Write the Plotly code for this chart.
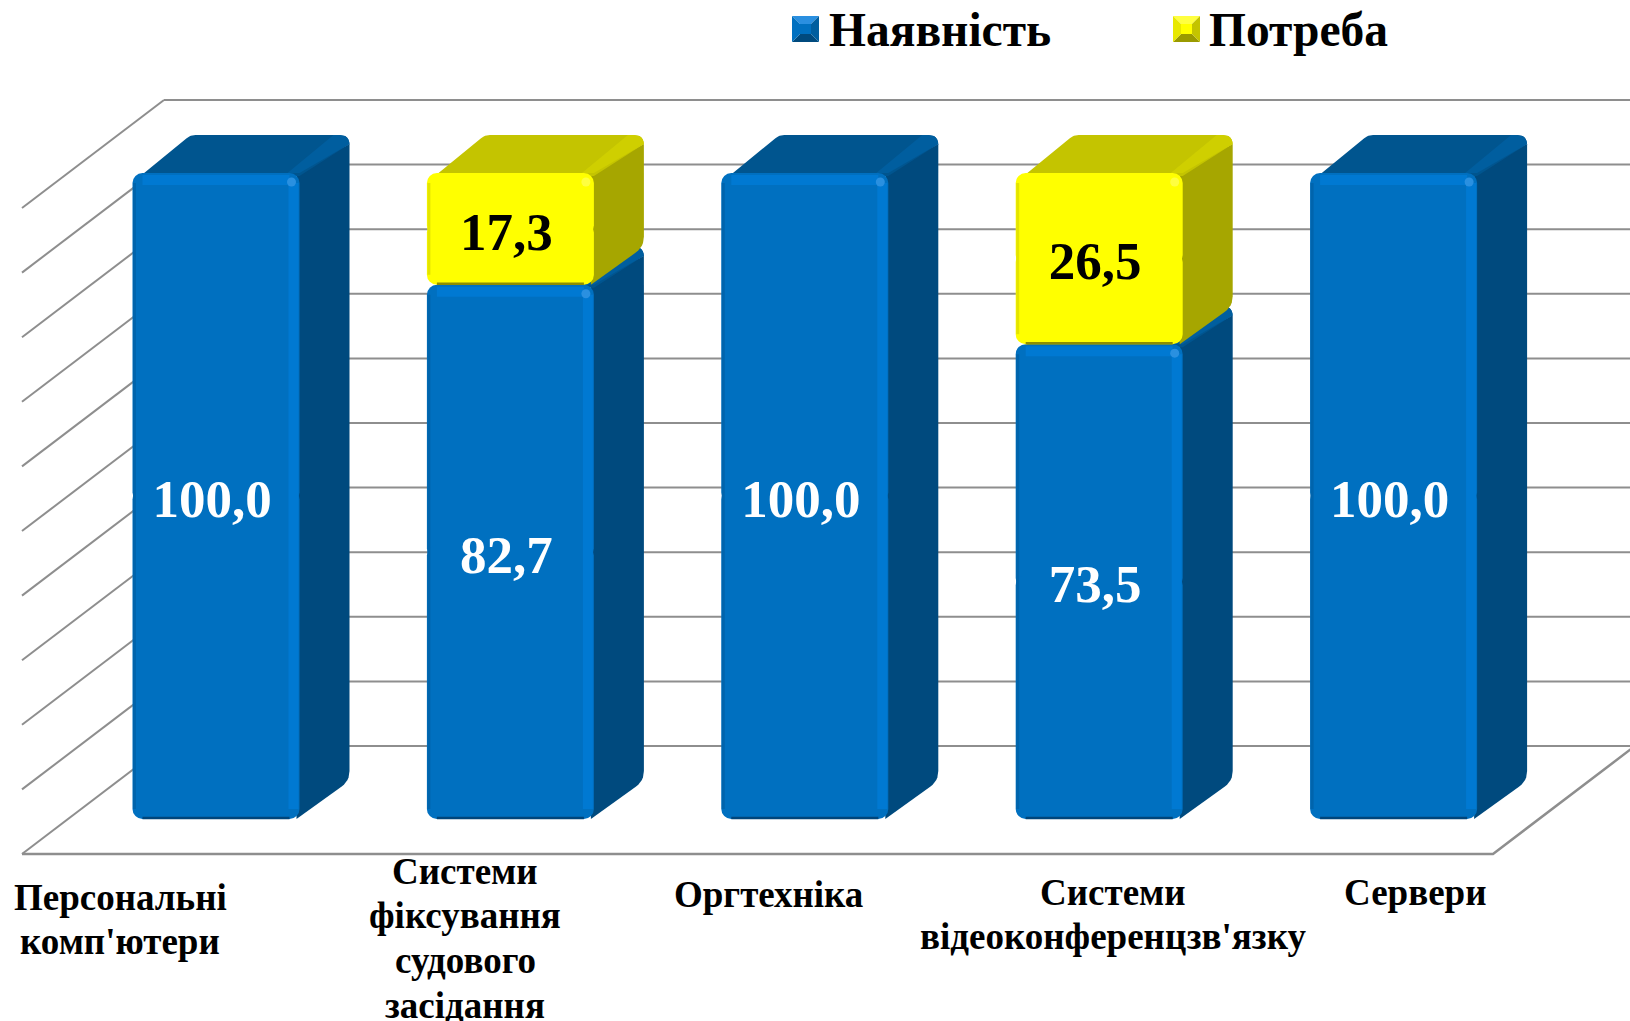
import plotly.graph_objects as go

# ---------- data ----------
CATEGORIES = ["Персональні<br>комп'ютери", "Системи<br>фіксування<br>судового<br>засідання",
              "Оргтехніка", "Системи<br>відеоконференцзв'язку", "Сервери"]
NAYAVNIST = [100.0, 82.7, 100.0, 73.5, 100.0]
POTREBA = [None, 17.3, None, 26.5, None]
SERIES_NAMES = ["Наявність", "Потреба"]
GRID_VALUES = [0, 10, 20, 30, 40, 50, 60, 70, 80, 90, 100]

# ---------- layout constants (pixels of the 1630x1021 page) ----------
W, H = 1630, 1021
PX_PER_CAT = 294.4
PX_PER_VAL = 6.46
X0_PX, Y0_PX = 216.0, 819.0          # pixel of category 0 / value 0
BAR_W = 167 / PX_PER_CAT
BOX_DX, BOX_DY = 50 / PX_PER_CAT, 38 / PX_PER_VAL
FLOOR_F_Y = -35 / PX_PER_VAL         # front edge of the floor, relative to the bars' base
FLOOR_F_XL = (22 - X0_PX) / PX_PER_CAT
FLOOR_F_XR = (1493 - X0_PX) / PX_PER_CAT
WALL_DX, WALL_DY = 142 / PX_PER_CAT, 108 / PX_PER_VAL
R = 10

XR = [-X0_PX / PX_PER_CAT, (W - X0_PX) / PX_PER_CAT]
YR = [-(H - Y0_PX) / PX_PER_VAL, Y0_PX / PX_PER_VAL]


def px(n):
    return n / PX_PER_CAT


def py(n):
    return n / PX_PER_VAL


STYLE = [
    dict(front="#0070C0", top="#00558F", ridge="#005E9F", side="#004A7E",
         hi="#0079D2", shade="#00457A", spot="#2A90E0", left="#0064AC", txt="white"),
    dict(front="#FFFF00", top="#C4C400", ridge="#CFCF00", side="#A6A600",
         hi="#FFFF00", shade="#8E8E00", spot="#FFFF40", left="#E4E400", txt="black"),
]
FONT = "Liberation Serif, Times New Roman, serif"


def rounded(points, radii):
    """Polygon in data units with arcs of the given pixel radius at each vertex."""
    out_x, out_y = [], []
    pts = [(x * PX_PER_CAT, y * PX_PER_VAL) for x, y in points]
    n = len(pts)
    for i, (qx, qy) in enumerate(pts):
        r = radii[i]
        ax, ay = pts[i - 1]
        bx, by = pts[(i + 1) % n]
        if r == 0:
            out_x.append(qx)
            out_y.append(qy)
            continue
        la = ((ax - qx) ** 2 + (ay - qy) ** 2) ** 0.5
        lb = ((bx - qx) ** 2 + (by - qy) ** 2) ** 0.5
        s = (qx + (ax - qx) * r / la, qy + (ay - qy) * r / la)
        e = (qx + (bx - qx) * r / lb, qy + (by - qy) * r / lb)
        for k in range(7):
            t = k / 6
            out_x.append((1 - t) ** 2 * s[0] + 2 * t * (1 - t) * qx + t ** 2 * e[0])
            out_y.append((1 - t) ** 2 * s[1] + 2 * t * (1 - t) * qy + t ** 2 * e[1])
    out_x.append(out_x[0])
    out_y.append(out_y[0])
    return [x / PX_PER_CAT for x in out_x], [y / PX_PER_VAL for y in out_y]


def poly(xs, ys, color, xaxis="x", yaxis="y"):
    return go.Scatter(x=xs, y=ys, mode="lines", fill="toself", fillcolor=color,
                      line=dict(width=0, color=color), hoverinfo="skip", showlegend=False,
                      xaxis=xaxis, yaxis=yaxis)


def line(xs, ys, color, width=2, xaxis="x", yaxis="y"):
    return go.Scatter(x=xs, y=ys, mode="lines", line=dict(color=color, width=width),
                      hoverinfo="skip", showlegend=False, xaxis=xaxis, yaxis=yaxis)


fig = go.Figure()
GRID = "#8E8E8E"

# ---------- walls and floor ----------
for v in GRID_VALUES:
    yb = FLOOR_F_Y + WALL_DY + v
    fig.add_trace(line([FLOOR_F_XL + WALL_DX, XR[1] + 1], [yb, yb], GRID))
    fig.add_trace(line([FLOOR_F_XL, FLOOR_F_XL + WALL_DX],
                       [FLOOR_F_Y + v, FLOOR_F_Y + v + WALL_DY], GRID))
fig.add_trace(line([FLOOR_F_XL, FLOOR_F_XR, FLOOR_F_XR + WALL_DX],
                   [FLOOR_F_Y, FLOOR_F_Y, FLOOR_F_Y + WALL_DY], GRID, 2.5))

# ---------- side and top faces of every block ----------
segments = []
for s, vals in enumerate([NAYAVNIST, POTREBA]):
    for i, v in enumerate(vals):
        if v is None:
            continue
        base = 0.0 if s == 0 else NAYAVNIST[i]
        segments.append((s, i, base, v))

for s, i, base, v in segments:
    st = STYLE[s]
    xl, xr = i - BAR_W / 2, i + BAR_W / 2
    top = base + v
    bx, by = xr + BOX_DX, top + BOX_DY
    xs, ys = rounded([(xr - px(3), top), (bx, by - py(9)), (bx, base + BOX_DY), (xr - px(3), base)],
                     [0, 0, R, 0])
    fig.add_trace(poly(xs, ys, st["side"]))
    xs, ys = rounded([(xl + px(8), top - py(3)), (xr, top - py(3)), (bx, by - py(9)), (bx, by),
                      (xl + px(58), by)], [0, 0, 0, R, 5])
    fig.add_trace(poly(xs, ys, st["top"]))
    xs, ys = rounded([(xr - px(12), top), (xr, top), (bx, by - py(9)), (bx, by), (bx - px(16), by)],
                     [0, 0, 0, R, 0])
    fig.add_trace(poly(xs, ys, st["ridge"]))

# ---------- front faces: real bars on an overlaying pair of axes ----------
OVERLAP = 1.0
for s, vals in enumerate([NAYAVNIST, POTREBA]):
    st = STYLE[s]
    idx = [i for i, v in enumerate(vals) if v is not None]
    v = [vals[i] for i in idx]
    b = [0.0 if s == 0 else NAYAVNIST[i] for i in idx]
    mid = [bb + vv / 2 for bb, vv in zip(b, v)]
    cats = [CATEGORIES[i].replace("<br>", " ") for i in idx]
    for sign in (1, -1):   # two halves so that both ends of the block are rounded
        fig.add_trace(go.Bar(
            x=idx, y=[sign * (vv / 2 + OVERLAP) for vv in v],
            base=[m - sign * OVERLAP for m in mid], width=BAR_W,
            name=SERIES_NAMES[s], customdata=[[c, vv] for c, vv in zip(cats, v)],
            hovertemplate="%{customdata[0]}<br>" + SERIES_NAMES[s] + ": %{customdata[1]:.1f}<extra></extra>",
            marker=dict(color=st["front"], cornerradius=R, line=dict(width=0)),
            showlegend=False, xaxis="x2", yaxis="y2"))

# ---------- bevel highlights and value labels ----------
X3, Y3 = "x3", "y3"
for s, i, base, v in segments:
    st = STYLE[s]
    xl, xr = i - BAR_W / 2, i + BAR_W / 2
    top = base + v
    rv, rc = py(R), px(R)
    fig.add_trace(poly([xr - px(11), xr - px(1), xr - px(1), xr - px(11)],
                       [base + rv, base + rv, top - rv, top - rv], st["hi"], X3, Y3))
    fig.add_trace(poly([xl + rc, xr - rc, xr - rc, xl + rc],
                       [top - py(2), top - py(2), top - py(12), top - py(12)], st["hi"], X3, Y3))
    fig.add_trace(poly([xl + px(0.5), xl + px(3.5), xl + px(3.5), xl + px(0.5)],
                       [base + rv, base + rv, top - rv, top - rv], st["left"], X3, Y3))
    fig.add_trace(line([xl + rc, xr - rc], [base + py(1), base + py(1)], st["shade"], 2.5, X3, Y3))
    fig.add_trace(go.Scatter(x=[xr - px(8)], y=[top - py(9)], mode="markers",
                             marker=dict(size=9, color=st["spot"], line=dict(width=0)),
                             hoverinfo="skip", showlegend=False, xaxis=X3, yaxis=Y3))

for s, vals in enumerate([NAYAVNIST, POTREBA]):
    idx = [i for i, v in enumerate(vals) if v is not None]
    v = [vals[i] for i in idx]
    b = [0.0 if s == 0 else NAYAVNIST[i] for i in idx]
    fig.add_trace(go.Scatter(
        x=[i - px(4) for i in idx], y=[bb + vv / 2 - py(7.5) for bb, vv in zip(b, v)], mode="text",
        text=[f"{vv:.1f}".replace(".", ",") for vv in v],
        textfont=dict(family=FONT, size=53, color=STYLE[s]["txt"], weight="bold"),
        textposition="middle center", hoverinfo="skip", showlegend=False, xaxis=X3, yaxis=Y3))

# ---------- category labels (line by line, to keep the tight leading) ----------
LABEL_CX = [120, 465, 768, 1113, 1415]
LABEL_FIRST_CY = [897, 871, 894, 892, 892]
LINE_STEP = 44.7
annotations = []
for c, cx, cy in zip(CATEGORIES, LABEL_CX, LABEL_FIRST_CY):
    for k, part in enumerate(c.split("<br>")):
        annotations.append(dict(text=part, x=cx / W, y=1 - (cy + k * LINE_STEP) / H,
                                xref="paper", yref="paper", xanchor="center", yanchor="middle",
                                showarrow=False, align="center",
                                font=dict(family=FONT, size=37, color="black", weight="bold")))

# ---------- legend ----------
LEG = [(792, 827, 0), (1173, 1207, 1)]
shapes = []
for sx, tx, s in LEG:
    x0, x1, y0, y1 = sx, sx + 27, 16, 42
    ins = 8
    cols = [("#2A8FE0", "#FFFF40")[s], ("#004A7E", "#9A9A00")[s], ("#005E9F", "#C4C400")[s], ("#0070C0", "#E8E800")[s]]
    quads = [[(x0, y0), (x1, y0), (x1 - ins, y0 + ins), (x0 + ins, y0 + ins)],
             [(x0, y1), (x1, y1), (x1 - ins, y1 - ins), (x0 + ins, y1 - ins)],
             [(x1, y0), (x1, y1), (x1 - ins, y1 - ins), (x1 - ins, y0 + ins)],
             [(x0, y0), (x0, y1), (x0 + ins, y1 - ins), (x0 + ins, y0 + ins)]]
    for q, col in zip(quads, cols):
        path = "M" + "L".join(f"{qx / W:.5f},{1 - qy / H:.5f}" for qx, qy in q) + "Z"
        shapes.append(dict(type="path", xref="paper", yref="paper", path=path,
                           fillcolor=col, line=dict(width=0)))
    shapes.append(dict(type="rect", xref="paper", yref="paper", x0=(x0 + ins) / W, x1=(x1 - ins) / W,
                       y0=1 - (y1 - ins) / H, y1=1 - (y0 + ins) / H,
                       fillcolor=("#0070C0", "#FFFF00")[s], line=dict(width=0)))
    annotations.append(dict(text=SERIES_NAMES[s], x=tx / W, y=1 - 30 / H, xref="paper", yref="paper",
                            xanchor="left", yanchor="middle", showarrow=False,
                            font=dict(family=FONT, size=47.5, color="black", weight="bold")))

hidden = dict(visible=False, fixedrange=True)
fig.update_layout(
    width=W, height=H, margin=dict(l=0, r=0, t=0, b=0),
    paper_bgcolor="white", plot_bgcolor="white", showlegend=False,
    barmode="overlay", annotations=annotations, shapes=shapes,
    xaxis=dict(range=XR, **hidden), yaxis=dict(range=YR, **hidden),
    xaxis2=dict(range=XR, overlaying="x", **hidden), yaxis2=dict(range=YR, overlaying="y", **hidden),
    xaxis3=dict(range=XR, overlaying="x", **hidden), yaxis3=dict(range=YR, overlaying="y", **hidden),
)
fig.write_html("out.html", config=dict(displayModeBar=False),
               post_script="document.body.style.margin='0';document.documentElement.style.overflow='hidden';")
